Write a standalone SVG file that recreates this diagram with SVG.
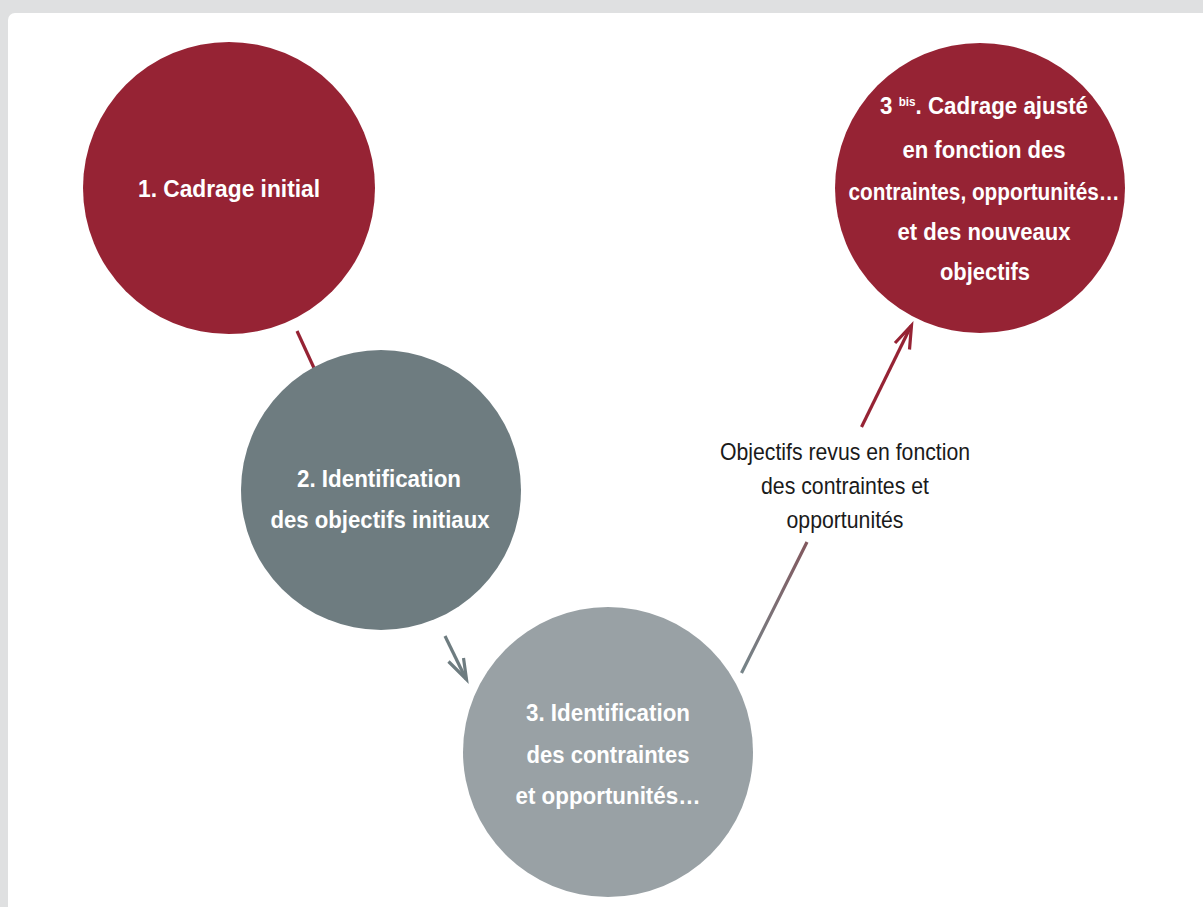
<svg xmlns="http://www.w3.org/2000/svg" width="1203" height="907" viewBox="0 0 1203 907">
<defs>
<style>
.t{font-family:"Liberation Sans",Arial,sans-serif;font-weight:bold;font-size:23px;fill:#fff;text-anchor:middle}
.lbl{font-family:"Liberation Sans",Arial,sans-serif;font-size:24.5px;fill:#1a1a1a;text-anchor:middle}
.red{fill:#962334}
</style>
<linearGradient id="g1" gradientUnits="userSpaceOnUse" x1="741" y1="673" x2="807" y2="542">
<stop offset="0" stop-color="#76858a"/>
<stop offset="1" stop-color="#82585e"/>
</linearGradient>
</defs>
<rect x="0" y="0" width="1203" height="907" fill="#dfe0e1"/>
<rect x="8" y="13" width="1220" height="920" rx="7" fill="#ffffff"/>
<g id="connectors" fill="none" stroke-width="3.2">
<line x1="297" y1="331" x2="314" y2="368" stroke="#962334"/>
<line x1="445" y1="636" x2="466" y2="679" stroke="#6e7c80"/>
<polyline points="448.5,661.5 466.5,679.5 463.5,658" stroke="#6e7c80"/>
<line x1="741.5" y1="673" x2="807" y2="542" stroke="url(#g1)"/>
<line x1="861.5" y1="427" x2="911" y2="326" stroke="#962334"/>
<polyline points="895,343 911.5,325.5 909.5,349.5" stroke="#962334"/>
</g>
<g id="node1">
<circle cx="229" cy="188" r="146" class="red"/>
<text class="t" x="229" y="197" textLength="182" lengthAdjust="spacingAndGlyphs">1. Cadrage initial</text>
</g>
<g id="node2">
<circle cx="381" cy="490" r="140" fill="#6e7c80"/>
<text class="t" x="379" y="487" textLength="164" lengthAdjust="spacingAndGlyphs">2. Identification</text>
<text class="t" x="380" y="528" textLength="219" lengthAdjust="spacingAndGlyphs">des objectifs initiaux</text>
</g>
<g id="node3">
<circle cx="608" cy="752" r="145" fill="#99a1a5"/>
<text class="t" x="608" y="721" textLength="164" lengthAdjust="spacingAndGlyphs">3. Identification</text>
<text class="t" x="608" y="763" textLength="163" lengthAdjust="spacingAndGlyphs">des contraintes</text>
<text class="t" x="608" y="804" textLength="185" lengthAdjust="spacingAndGlyphs">et opportunités…</text>
</g>
<g id="node3bis">
<circle cx="980" cy="188" r="145" class="red"/>
<text class="t" x="984" y="114" textLength="208" lengthAdjust="spacingAndGlyphs">3 <tspan font-size="12" dy="-8">bis</tspan><tspan dy="8">. Cadrage ajusté</tspan></text>
<text class="t" x="984" y="158" textLength="163" lengthAdjust="spacingAndGlyphs">en fonction des</text>
<text class="t" x="984" y="200" textLength="271" lengthAdjust="spacingAndGlyphs">contraintes, opportunités…</text>
<text class="t" x="984" y="240" textLength="173" lengthAdjust="spacingAndGlyphs">et des nouveaux</text>
<text class="t" x="985" y="280" textLength="90" lengthAdjust="spacingAndGlyphs">objectifs</text>
</g>
<g id="label">
<text class="lbl" x="845" y="460" textLength="250" lengthAdjust="spacingAndGlyphs">Objectifs revus en fonction</text>
<text class="lbl" x="845" y="494" textLength="168" lengthAdjust="spacingAndGlyphs">des contraintes et</text>
<text class="lbl" x="845" y="528" textLength="117" lengthAdjust="spacingAndGlyphs">opportunités</text>
</g>
</svg>
